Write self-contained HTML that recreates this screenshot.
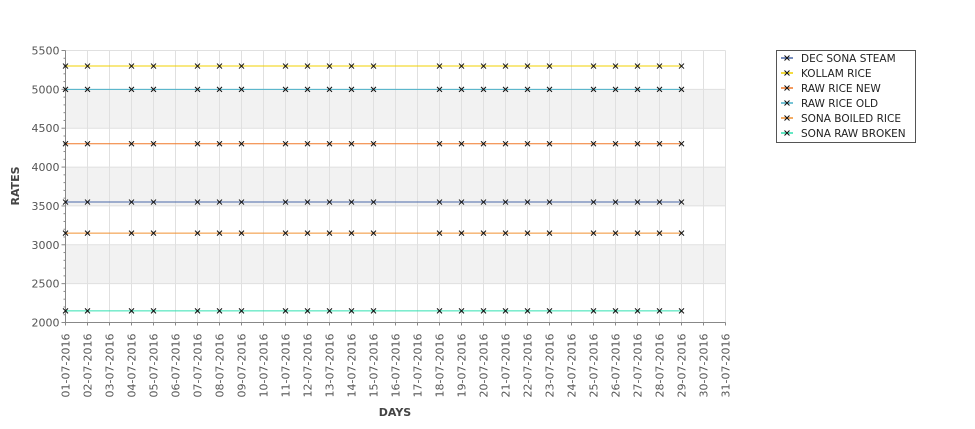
<!DOCTYPE html>
<html><head><meta charset="utf-8"><style>
body{margin:0;background:#fff;}
svg{display:block;font-family:"DejaVu Sans","Liberation Sans",sans-serif;}
</style></head><body>
<svg id="chart" width="975" height="429">
<g id="plot"></g>
</svg>
<script>
const days=["01","02","03","04","05","06","07","08","09","10","11","12","13","14","15","16","17","18","19","20","21","22","23","24","25","26","27","28","29","30","31"];
const dataDays=[1,2,4,5,7,8,9,11,12,13,14,15,18,19,20,21,22,23,25,26,27,28,29];
const seriesNames=["DEC SONA STEAM","KOLLAM RICE","RAW RICE NEW","RAW RICE OLD","SONA BOILED RICE","SONA RAW BROKEN"];
const seriesValues=[3550,5300,4300,5000,3150,2150];
const seriesColors=["#4a68a8","#f0d000","#f07828","#48b0c8","#f09030","#30e0b0"];
const yTicks=[2000,2500,3000,3500,4000,4500,5000,5500];
const X0=65.5,X1=725.5,Y0=322.5,Y1=50.5;
const xs=d=>X0+(d-1)*(X1-X0)/30;
const ys=v=>Y0-(v-2000)*(Y0-Y1)/3500;
const NS="http://www.w3.org/2000/svg";
const svg=document.getElementById('chart');
function mk(t,a,p){const e=document.createElementNS(NS,t);for(const k in a)e.setAttribute(k,a[k]);(p||svg).appendChild(e);return e;}
for(let i=0;i<yTicks.length-1;i++){ if(i%2==1){const r=mk('rect',{x:X0,y:ys(yTicks[i+1]),width:X1-X0,height:ys(yTicks[i])-ys(yTicks[i+1]),fill:'#f2f2f2'});

}}
days.forEach((d,i)=>{const l=mk('line',{x1:xs(i+1),x2:xs(i+1),y1:Y1,y2:Y0,stroke:'#e0e0e0'});

});
yTicks.forEach(v=>{const l=mk('line',{x1:X0,x2:X1,y1:ys(v),y2:ys(v),stroke:'#e0e0e0'});

});
mk('line',{x1:X0,x2:X0,y1:Y1,y2:Y0+1,stroke:'#888'});
mk('line',{x1:X0-1,x2:X1,y1:Y0,y2:Y0,stroke:'#888'});
for(let v=2000;v<=5500;v+=100){const major=v%500==0;mk('line',{x1:X0-(major?4:2),x2:X0,y1:ys(v),y2:ys(v),stroke:'#888'});}
yTicks.forEach(v=>{const t=mk('text',{x:X0-6,y:ys(v)+4,'text-anchor':'end','font-size':11,fill:'#555'});t.textContent=v;

});
days.forEach((d,i)=>{const x=xs(i+1);mk('line',{x1:x,x2:x,y1:Y0,y2:Y0+3,stroke:'#888'});
const t=mk('text',{transform:`translate(${x+4},${Y0+11}) rotate(-90)`,'text-anchor':'end','font-size':11,fill:'#555'});t.textContent=d+'-07-2016';

});
let t=mk('text',{transform:`translate(19,186) rotate(-90)`,'text-anchor':'middle','font-size':11,'font-weight':'bold',fill:'#444'});t.textContent='RATES';


t=mk('text',{x:395,y:416,'text-anchor':'middle','font-size':11,'font-weight':'bold',fill:'#444'});t.textContent='DAYS';


seriesValues.forEach((v,si)=>{
 const y=ys(v);
 const g=mk('g',{});
 
 
 mk('line',{x1:xs(dataDays[0]),x2:xs(dataDays[dataDays.length-1]),y1:y,y2:y,stroke:seriesColors[si],'stroke-width':1},g);
 dataDays.forEach(d=>{const x=xs(d);
  const p=mk('path',{d:`M${x-2.5},${y-2.5}L${x+2.5},${y+2.5}M${x-2.5},${y+2.5}L${x+2.5},${y-2.5}`,stroke:'#111','stroke-width':1},g);
  
  });
});
const lg=mk('g',{});


mk('rect',{x:776.5,y:50.5,width:139,height:92,fill:'#fff',stroke:'#555'},lg);
seriesNames.forEach((n,i)=>{const y=58+i*15;
 const e=mk('g',{},lg);
 
 
 mk('line',{x1:781,x2:793,y1:y,y2:y,stroke:seriesColors[i],'stroke-width':1.5},e);
 mk('path',{d:`M784.5,${y-2.5}L789.5,${y+2.5}M784.5,${y+2.5}L789.5,${y-2.5}`,stroke:'#111','stroke-width':1},e);
 const tx=mk('text',{x:801,y:y+4,'font-size':10.5,fill:'#222'},e);tx.textContent=n;});
</script>
</body></html>
